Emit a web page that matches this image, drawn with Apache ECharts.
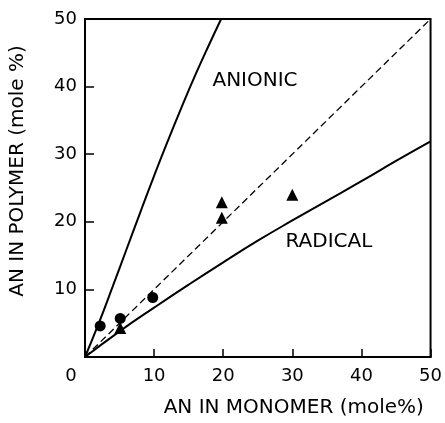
<!DOCTYPE html>
<html>
<head>
<meta charset="utf-8">
<script src="https://cdn.jsdelivr.net/npm/echarts@6/dist/echarts.min.js"></script>
<style>html,body{margin:0;padding:0;background:#fff;}#c{width:445px;height:423px;}</style>
</head>
<body>
<div id="c"></div>
<script>
// Data (mole % AN in monomer -> mole % AN in polymer)
const xTicks = [0, 10, 20, 30, 40, 50];
const yTicks = [0, 10, 20, 30, 40, 50];
const anionicCurve = [[0,0],[2,5],[4,10.4],[6,15.9],[8,21.4],[10,26.8],[12,32],[14,37],[16,41.8],[18,46.3],[19.7,50]];
const radicalCurve = [[0,0],[5,3.8],[10,7.3],[15,10.7],[20,14],[25,17.2],[30,20.2],[35,23.1],[40,26],[45,29],[50,31.9]];
const idealLine = [[0,0],[50,50]];
const circlePoints = [[2.2,4.6],[5.1,5.7],[9.8,8.8]];
const trianglePoints = [[5.1,4.3],[19.8,22.9],[19.8,20.6],[30.0,24.0]];
const curveLabels = [{name:'ANIONIC', value:[24.6,40.8]},{name:'RADICAL', value:[35.3,17.1]}];
const xName = 'AN IN MONOMER (mole%)';
const yName = 'AN IN POLYMER (mole %)';

const FONT = 'DejaVu Sans';
const chart = echarts.init(document.getElementById('c'), null, {renderer:'canvas'});
chart.setOption({
  animation: false,
  backgroundColor: '#fff',
  grid: {left: 80, right: 13, top: 19, bottom: 61, show: true, borderColor: '#000', borderWidth: 2, backgroundColor: 'transparent'},
  xAxis: {
    type: 'value', min: xTicks[0], max: xTicks[xTicks.length-1], interval: 10,
    axisLine: {show: true, lineStyle: {color: '#000', width: 2}},
    axisTick: {show: true, inside: true, length: 8, lineStyle: {color: '#000', width: 1.5}},
    splitLine: {show: false},
    axisLabel: {color: '#000', fontFamily: FONT, fontSize: 18, margin: 10,
      formatter: v => v === 0 ? '{z|0}' : String(v),
      rich: {z: {fontFamily: FONT, fontSize: 18, color: '#000', padding: [0, 28, 0, 0]}}},
    name: xName, nameLocation: 'middle', nameGap: 41,
    nameTextStyle: {color: '#000', fontFamily: FONT, fontSize: 20, padding: [0, 0, 0, 72]}
  },
  yAxis: {
    type: 'value', min: yTicks[0], max: yTicks[yTicks.length-1], interval: 10,
    axisLine: {show: true, lineStyle: {color: '#000', width: 2}},
    axisTick: {show: true, inside: true, length: 9, lineStyle: {color: '#000', width: 1.5}},
    splitLine: {show: false},
    axisLabel: {color: '#000', fontFamily: FONT, fontSize: 18, margin: 8,
      formatter: v => v === 0 ? '' : String(v)},
    name: yName, nameLocation: 'middle', nameGap: 57,
    nameTextStyle: {color: '#000', fontFamily: FONT, fontSize: 20, padding: [0, 0, 0, 34]}
  },
  series: [
    {type: 'line', data: idealLine, symbol: 'none', lineStyle: {color: '#000', width: 1.3, type: [7, 4]}, z: 2},
    {type: 'line', data: anionicCurve, symbol: 'none', smooth: true, lineStyle: {color: '#000', width: 2}, z: 3},
    {type: 'line', data: radicalCurve, symbol: 'none', smooth: true, lineStyle: {color: '#000', width: 2}, z: 3},
    {type: 'scatter', data: trianglePoints, symbol: 'triangle', symbolSize: 12, itemStyle: {color: '#000', opacity: 1}, z: 4},
    {type: 'scatter', data: circlePoints, symbol: 'circle', symbolSize: 11, itemStyle: {color: '#000', opacity: 1}, z: 5},
    {type: 'scatter', data: curveLabels, symbolSize: 0, itemStyle: {opacity: 1}, z: 6,
      label: {show: true, position: 'inside', formatter: p => p.name, color: '#000', opacity: 1, fontFamily: FONT, fontSize: 20}}
  ]
});
</script>
</body>
</html>
